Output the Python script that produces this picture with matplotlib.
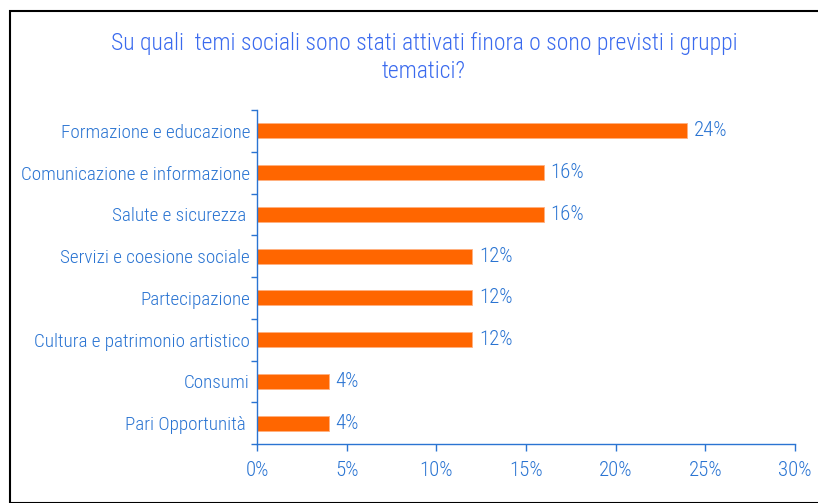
import matplotlib
matplotlib.use("Agg")
import matplotlib.pyplot as plt
from matplotlib.patches import Rectangle

categories = ["Formazione e educazione", "Comunicazione e informazione", "Salute e sicurezza ",
              "Servizi e coesione sociale", "Partecipazione", "Cultura e patrimonio artistico",
              "Consumi", "Pari Opportunità "]
values = [24, 16, 16, 12, 12, 12, 4, 4]
xticks = [0, 5, 10, 15, 20, 25, 30]
title = "Su quali  temi sociali sono stati attivati finora o sono previsti i gruppi\ntematici?"

plt.rcParams['font.family'] = ['Roboto Condensed', 'DejaVu Sans']
plt.rcParams['font.weight'] = 'light'
blue = "#2a74d2"
tblue = "#3a6aee"
orange = "#ff6600"

fig = plt.figure(figsize=(8.18, 5.03), dpi=100)
ax = fig.add_axes([257/818, 1-444/503, (795-257)/818, (444-110)/503])

n = len(categories)
ypos = list(range(n))[::-1]
ax.barh(ypos, values, height=0.36, color=orange, edgecolor="#ffb080", linewidth=0.6)
for y, v in zip(ypos, values):
    ax.text(v + 0.38, y, f"{v}%", va="center", ha="left", color=blue, fontsize=15)

ax.set_xlim(0, 30)
ax.set_ylim(-0.5, n - 0.5)
ax.set_xticks(xticks)
ax.set_xticklabels([f"{t}%" for t in xticks], color=blue, fontsize=15)
ax.set_yticks(ypos)
ax.set_yticklabels(categories, color=blue, fontsize=13.8)
ax.set_yticks([i - 0.5 for i in range(n + 1)], minor=True)
ax.tick_params(axis="y", which="major", length=0, pad=5)
ax.tick_params(axis="y", which="minor", length=4, color=blue, width=1)
ax.tick_params(axis="x", length=5, color=blue, width=1, pad=7)
for s in ["top", "right"]:
    ax.spines[s].set_visible(False)
for s in ["left", "bottom"]:
    ax.spines[s].set_color(blue)
    ax.spines[s].set_linewidth(1)

fig.text(424/818, 1-32/503, title, ha="center", va="top", color=tblue, fontsize=17,
         linespacing=1.3)

fig.patches.append(Rectangle((10/818, 0), 1.1, 1-11/503, transform=fig.transFigure,
                             fill=False, edgecolor="black", linewidth=1.5))
fig.savefig("out.png", dpi=100)
